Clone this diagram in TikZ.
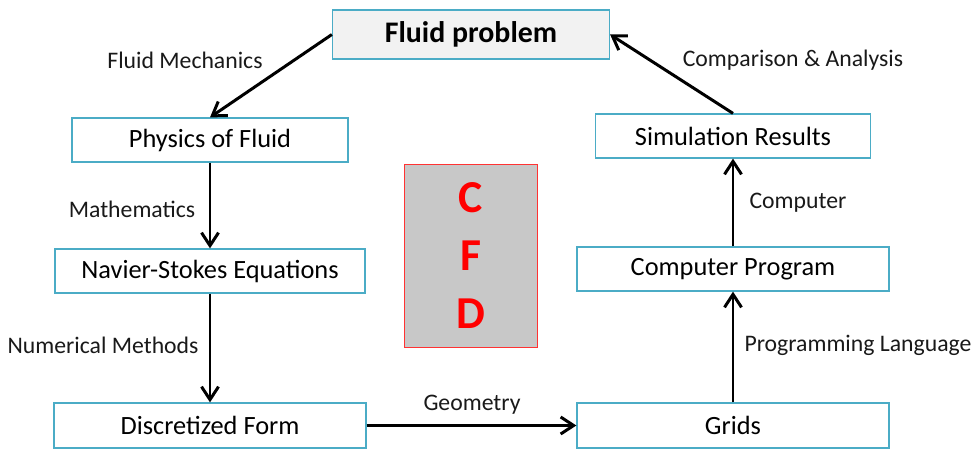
\documentclass[tikz,border=0pt]{standalone}
\usepackage{fontspec}
\setmainfont{Carlito}
\usetikzlibrary{arrows.meta,positioning}
\definecolor{boxblue}{RGB}{75,172,198}
\definecolor{cfdgray}{RGB}{200,200,200}

\begin{document}
\begin{tikzpicture}[
  box/.style={rectangle,draw=boxblue,line width=0.7pt,fill=white,minimum height=0.88cm,align=center,font=\fontsize{15}{18}\selectfont},
  lbl/.style={font=\fontsize{13.5}{16}\selectfont,text=black!90},
  arrow/.style={-{Straight Barb[length=2.6mm,width=3.4mm]},line width=1.7pt}
]
\useasboundingbox (0,0) rectangle (19.5,9);
\node[box,fill=black!5,minimum width=5.54cm,minimum height=0.98cm,font=\fontsize{17}{20}\selectfont\bfseries] (problem) at (9.42,8.31) {Fluid problem};
\node[box,minimum width=5.52cm] (physics) at (4.2,6.2) {Physics of Fluid};
\node[box,minimum width=6.2cm] (navier) at (4.2,3.58) {Navier-Stokes Equations};
\node[box,minimum width=6.24cm,minimum height=0.9cm] (discrete) at (4.2,0.49) {Discretized Form};
\node[box,minimum width=6.24cm,minimum height=0.9cm] (grids) at (14.66,0.49) {Grids};
\node[box,minimum width=6.24cm] (program) at (14.66,3.62) {Computer Program};
\node[box,minimum width=5.5cm] (results) at (14.66,6.28) {Simulation Results};
\node[rectangle,draw=red!80,fill=cfdgray,minimum width=2.66cm,minimum height=3.66cm,align=center,text=red,font=\fontsize{26}{33}\selectfont\bfseries] (cfd) at (9.42,3.88) {C\\F\\D};
% labels
\node[lbl] (mech) at (3.7,7.8) {Fluid Mechanics};
\node[lbl] (math) at (2.64,4.82) {Mathematics};
\node[lbl] (num) at (2.06,2.1) {Numerical Methods};
\node[lbl] (geom) at (9.44,0.9) {Geometry};
\node[lbl] (lang) at (17.16,2.1) {Programming Language};
\node[lbl] (comp) at (15.96,4.94) {Computer};
\node[lbl] (compare) at (15.86,7.8) {Comparison \& Analysis};
% connectors
\draw[arrow] (problem.west) -- (physics.north);
\draw[arrow] (physics) -- (navier);
\draw[arrow] (navier) -- (discrete);
\draw[arrow] (discrete) -- (grids);
\draw[arrow] (grids) -- (program);
\draw[arrow] (program) -- (results);
\draw[arrow] (results.north) -- (problem.east);
\end{tikzpicture}
\end{document}
